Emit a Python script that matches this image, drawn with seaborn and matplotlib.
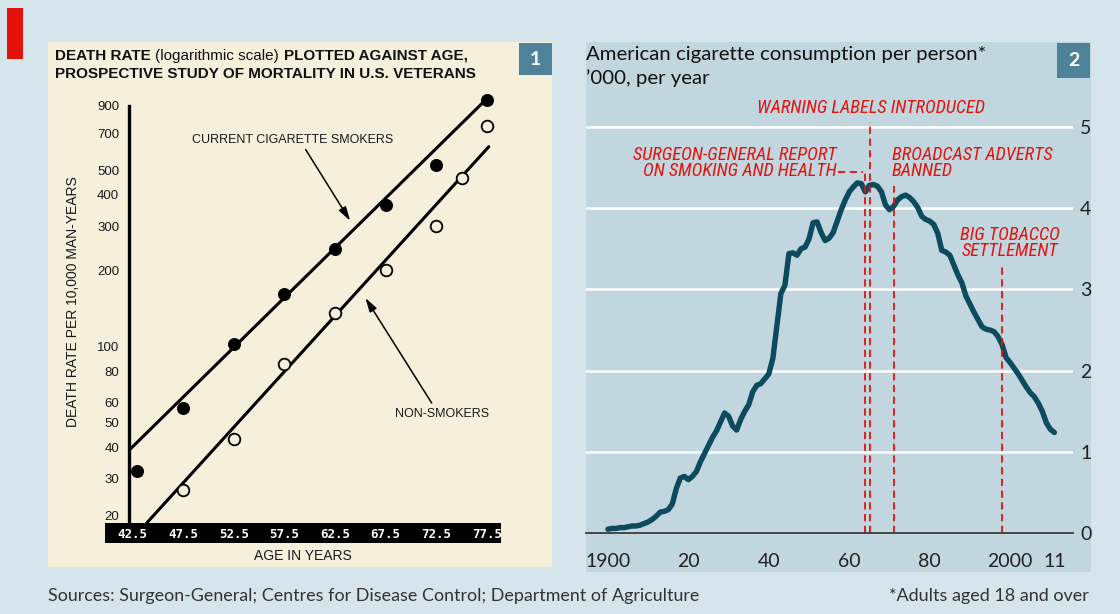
import numpy as np
import pandas as pd
import matplotlib
matplotlib.use("Agg")
import matplotlib.pyplot as plt
import seaborn as sns
from matplotlib import font_manager as fm
from matplotlib.patches import Rectangle

# ---------------- data ----------------
# Panel 1: death rate per 10,000 man-years (log scale) vs age
age_ticks = [42.5, 47.5, 52.5, 57.5, 62.5, 67.5, 72.5, 77.5]
rate_ticks = [20, 30, 40, 50, 60, 80, 100, 200, 300, 400, 500, 700, 900]
smoker_age = [42.9, 47.5, 52.5, 57.5, 62.5, 67.5, 72.5, 77.5]
smoker_rate = [32, 57, 102, 162, 244, 363, 522, 950]
nonsmoker_age = [47.5, 52.5, 57.5, 62.5, 67.5, 72.5, 75.0, 77.5]
nonsmoker_rate = [27, 43, 85, 136, 201, 300, 464, 750]
smoker_fit_age = [42.2, 77.5]
smoker_fit_rate = [39, 960]
nonsmoker_fit_age = [43.9, 77.7]
nonsmoker_fit_rate = [20, 620]

# Panel 2: American cigarette consumption per person, '000 per year
years = list(range(1900, 2012))
consumption = [
    0.05, 0.06, 0.06, 0.07, 0.07, 0.08, 0.09, 0.09, 0.10, 0.12,
    0.14, 0.17, 0.21, 0.26, 0.27, 0.29, 0.36, 0.55, 0.68, 0.70,
    0.66, 0.70, 0.76, 0.88, 0.98, 1.08, 1.18, 1.26, 1.37, 1.48,
    1.44, 1.32, 1.27, 1.40, 1.50, 1.58, 1.74, 1.82, 1.84, 1.90,
    1.96, 2.15, 2.55, 2.95, 3.05, 3.44, 3.45, 3.42, 3.50, 3.52,
    3.62, 3.82, 3.83, 3.70, 3.60, 3.63, 3.70, 3.84, 3.98, 4.10,
    4.20, 4.26, 4.31, 4.30, 4.20, 4.28, 4.29, 4.27, 4.20, 4.04,
    3.98, 4.02, 4.10, 4.14, 4.16, 4.13, 4.08, 4.01, 3.90, 3.86,
    3.84, 3.80, 3.69, 3.48, 3.46, 3.42, 3.30, 3.18, 3.08, 2.92,
    2.82, 2.72, 2.63, 2.54, 2.51, 2.50, 2.48, 2.42, 2.32, 2.16,
    2.10, 2.03, 1.96, 1.88, 1.80, 1.73, 1.68, 1.60, 1.50, 1.36,
    1.28, 1.24,
]
event_years = [1964, 1965.2, 1971, 1998]
event_tops = [4.47, 5.06, 4.27, 3.28]
year_ticks = [1900, 1920, 1940, 1960, 1980, 2000, 2011]
year_labels = ["1900", "20", "40", "60", "80", "2000", "11"]
minor_year_ticks = [1910, 1930, 1950, 1970, 1990, 2010]
value_ticks = [0, 1, 2, 3, 4, 5]

# ---------------- fonts ----------------
sns.set_theme(style="white")
names = {f.name for f in fm.fontManager.ttflist}


def pick(*cands):
    for c in cands:
        if c in names:
            return c
    return "DejaVu Sans"


SANS = pick("Lato", "Open Sans", "Roboto", "Noto Sans", "DejaVu Sans")
NARROW = pick("Liberation Sans Narrow", "Roboto Condensed", "Lato", "Liberation Sans")
OLD = pick("Liberation Sans", "DejaVu Sans")
MONO = pick("DejaVu Sans Mono", "Liberation Mono")
plt.rcParams["font.family"] = [SANS, "DejaVu Sans"]

W, H = 1120, 614
BG = "#d6e4ec"
PANEL = "#c2d6df"
CREAM = "#f6efdc"
BOX = "#4e8299"
RED = "#e3120b"
LINE = "#0c4a5d"

fig = plt.figure(figsize=(W / 100, H / 100), dpi=100, facecolor=BG)


def fx(px):
    return px / W


def fy(py):
    return 1 - py / H


def rect(x0, y0, x1, y1, color, z=-1):
    fig.add_artist(Rectangle((fx(x0), fy(y1)), fx(x1) - fx(x0), fy(y0) - fy(y1),
                             transform=fig.transFigure, facecolor=color,
                             edgecolor="none", zorder=z))


# backgrounds
rect(7.3, 8.3, 23.3, 59, RED)
rect(48, 42, 552, 567, CREAM)
rect(585.8, 42, 1091, 572, PANEL)
rect(519, 43.3, 551.7, 75, BOX, z=-0.9)
rect(1056.8, 43, 1090.2, 78, BOX, z=-0.9)
rect(105, 523, 501, 543, "black", z=-0.5)

fig.text(fx(535.4), fy(59.5), "1", color="white", fontsize=14, fontweight="bold",
         ha="center", va="center", family=SANS)
fig.text(fx(1073.5), fy(60.5), "2", color="white", fontsize=14, fontweight="bold",
         ha="center", va="center", family=SANS)

# ---------------- panel 1 ----------------
ax1 = fig.add_axes([fx(129), fy(523), (501 - 129) / W, (523 - 85) / H])
ax1.set_facecolor("none")
ax1.set_yscale("log")

df_s = pd.DataFrame({"age": smoker_age, "rate": smoker_rate})
df_n = pd.DataFrame({"age": nonsmoker_age, "rate": nonsmoker_rate})
df_sf = pd.DataFrame({"age": smoker_fit_age, "rate": smoker_fit_rate})
df_nf = pd.DataFrame({"age": nonsmoker_fit_age, "rate": nonsmoker_fit_rate})

sns.lineplot(data=df_sf, x="age", y="rate", ax=ax1, color="black", lw=2.2, zorder=2)
sns.lineplot(data=df_nf, x="age", y="rate", ax=ax1, color="black", lw=2.2, zorder=2)
sns.scatterplot(data=df_s, x="age", y="rate", ax=ax1, color="black", s=70,
                edgecolor="black", linewidth=1, zorder=3)
sns.scatterplot(data=df_n, x="age", y="rate", ax=ax1, color=CREAM, s=70,
                edgecolor="black", linewidth=1.3, zorder=3)

ax1.set_xlim(42.15, 78.9)
ax1.set_ylim(20.52, 1088)
ax1.set_xlabel("")
ax1.set_ylabel("")
for s in ["top", "right", "bottom"]:
    ax1.spines[s].set_visible(False)
ax1.spines["left"].set_color("black")
ax1.spines["left"].set_linewidth(2.4)
ax1.spines["left"].set_bounds(20, 900)

ax1.set_yticks(rate_ticks)
ax1.set_yticklabels([str(v) for v in rate_ticks])
ax1.yaxis.set_minor_locator(matplotlib.ticker.NullLocator())
ax1.tick_params(axis="y", which="major", direction="in", length=11, width=1.6,
                color="black", pad=7, labelsize=9.5, labelcolor="#1a1a1a")
for lab in ax1.get_yticklabels():
    lab.set_family(OLD)
    if lab.get_text() == "20":
        lab.set_va("bottom")

ax1.set_xticks(age_ticks)
ax1.set_xticklabels([f"{a:.1f}" for a in age_ticks])
ax1.tick_params(axis="x", which="major", direction="in", length=9.5, width=1.2,
                color="black", pad=3.5, labelsize=9, labelcolor="white")
for lab in ax1.get_xticklabels():
    lab.set_family(MONO)
    lab.set_fontweight("bold")

ax1.annotate("", xy=(64.0, 315), xytext=(59.6, 604),
             arrowprops=dict(arrowstyle="-|>,head_length=0.7,head_width=0.2",
                             color="black", lw=1.1, shrinkA=0, shrinkB=0))
ax1.annotate("", xy=(65.5, 156), xytext=(72.05, 59.8),
             arrowprops=dict(arrowstyle="-|>,head_length=0.7,head_width=0.2",
                             color="black", lw=1.1, shrinkA=0, shrinkB=0))
ax1.text(58.3, 661, "CURRENT CIGARETTE SMOKERS", ha="center", va="center",
         fontsize=9, family=OLD, color="#1a1a1a")
ax1.text(73.04, 53.9, "NON-SMOKERS", ha="center", va="center",
         fontsize=9, family=OLD, color="#1a1a1a")

fig.text(fx(73), fy(302), "DEATH RATE PER 10,000 MAN-YEARS", rotation=90,
         ha="center", va="center", fontsize=10, family=OLD, color="#1a1a1a")
fig.text(fx(302.5), fy(556), "AGE IN YEARS", ha="center", va="center",
         fontsize=10, family=OLD, color="#1a1a1a")

# Title of panel 1 (mixed weights)
fig.canvas.draw()
renderer = fig.canvas.get_renderer()
x_cur = 55
pieces = [("DEATH RATE", "bold"), ("(logarithmic scale)", "normal"),
          ("PLOTTED AGAINST AGE,", "bold")]
for txt, wt in pieces:
    t = fig.text(fx(x_cur), fy(60), txt, fontsize=11, fontweight=wt, family=OLD,
                 color="#111111", va="baseline", ha="left")
    bb = t.get_window_extent(renderer)
    x_cur = bb.x1 + 4.5
fig.text(fx(55), fy(78), "PROSPECTIVE STUDY OF MORTALITY IN U.S. VETERANS",
         fontsize=11, fontweight="bold", family=OLD, color="#111111",
         va="baseline", ha="left")

# ---------------- panel 2 ----------------
ax2 = fig.add_axes([fx(585.8), fy(533.3), (1073.3 - 585.8) / W, (533.3 - 100) / H])
ax2.set_facecolor("none")
df_c = pd.DataFrame({"year": years, "consumption": consumption})

ax2.set_xlim(1894.5, 2015.7)
ax2.set_ylim(0, (533.3 - 100) / 81.3)
ax2.set_axisbelow(True)
ax2.set_yticks(value_ticks)
ax2.yaxis.grid(True, color="white", lw=1.8)
ax2.xaxis.grid(False)

sns.lineplot(data=df_c, x="year", y="consumption", ax=ax2, color=LINE, lw=3.9,
             zorder=3, solid_capstyle="round", solid_joinstyle="round")

ax2.vlines(event_years, 0, event_tops, colors=RED, linestyles=(0, (4, 2.5)),
           lw=1.3, zorder=4)

ax2.set_xlabel("")
ax2.set_ylabel("")
for s in ["top", "right", "left"]:
    ax2.spines[s].set_visible(False)
ax2.spines["bottom"].set_color("#3a3a3a")
ax2.spines["bottom"].set_linewidth(1.3)
ax2.spines["bottom"].set_zorder(5)

ax2.yaxis.tick_right()
ax2.tick_params(axis="y", length=0, pad=5, labelsize=14, labelcolor="#222222")
ax2.set_xticks(year_ticks)
ax2.set_xticklabels(year_labels)
ax2.set_xticks(minor_year_ticks, minor=True)
ax2.tick_params(axis="x", which="both", direction="in", length=7, width=1,
                color="#3a3a3a", pad=14, labelsize=14, labelcolor="#222222")

red_kw = dict(color=RED, fontsize=13.2, style="italic", family=NARROW, zorder=6)
ax2.text(1965.3, 5.23, "WARNING LABELS INTRODUCED", ha="center", va="center", **red_kw)
ax2.text(1956.8, 4.555, "SURGEON-GENERAL REPORT\nON SMOKING AND HEALTH", ha="right",
         va="center", multialignment="right", linespacing=0.92, **red_kw)
ax2.plot([1957.3, 1963.4], [4.44, 4.44], color=RED, lw=1.3, ls=(0, (4, 2.5)), zorder=4)
ax2.text(1970.6, 4.555, "BROADCAST ADVERTS\nBANNED", ha="left", va="center",
         multialignment="left", linespacing=0.92, **red_kw)
ax2.text(2000.0, 3.57, "BIG TOBACCO\nSETTLEMENT", ha="center", va="center",
         multialignment="center", linespacing=0.92, **red_kw)

fig.text(fx(585.8), fy(60), "American cigarette consumption per person*",
         fontsize=14.7, color="#111111", va="baseline", ha="left", family=SANS)
fig.text(fx(585.8), fy(84), "\u2019000, per year", fontsize=14.7, color="#111111",
         va="baseline", ha="left", family=SANS)

fig.text(fx(48), fy(596), "Sources: Surgeon-General; Centres for Disease Control; "
         "Department of Agriculture", fontsize=12.9, color="#333333", va="center",
         ha="left", family=SANS)
fig.text(fx(1089), fy(596), "*Adults aged 18 and over", fontsize=13,
         color="#333333", va="center", ha="right", family=SANS)

fig.savefig("out.png", dpi=100, facecolor=BG)
